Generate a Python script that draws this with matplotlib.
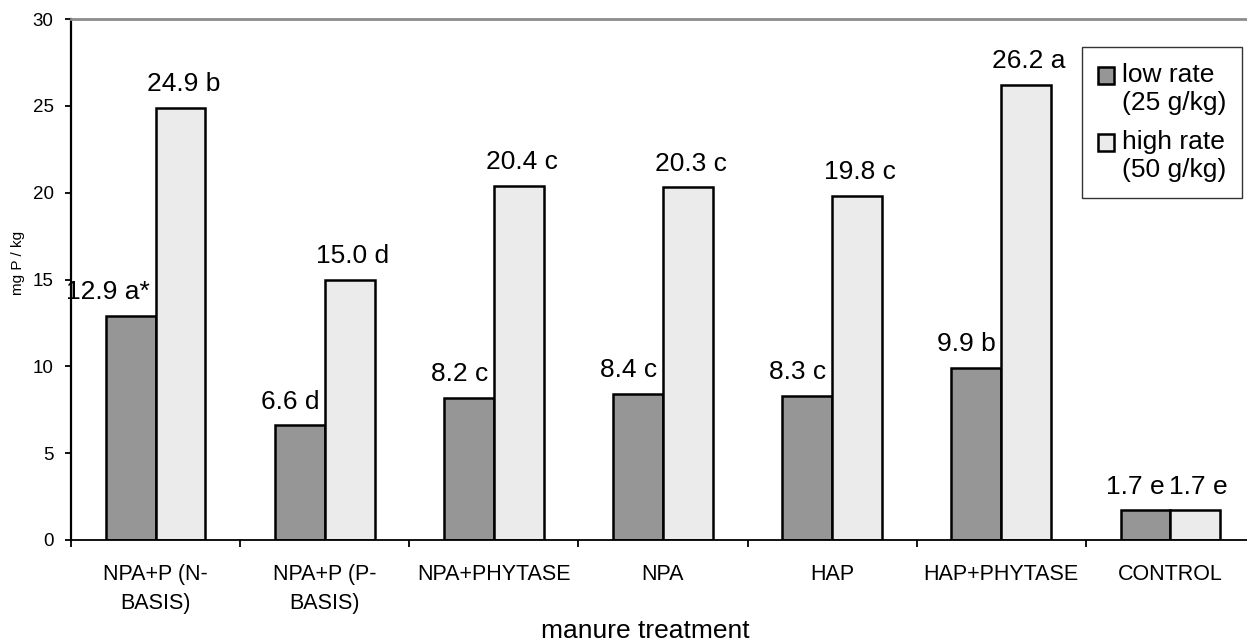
import matplotlib.pyplot as plt
import numpy as np

categories = ['NPA+P (N-\nBASIS)', 'NPA+P (P-\nBASIS)', 'NPA+PHYTASE', 'NPA',
              'HAP', 'HAP+PHYTASE', 'CONTROL']
low_rate = [12.9, 6.6, 8.2, 8.4, 8.3, 9.9, 1.7]
high_rate = [24.9, 15.0, 20.4, 20.3, 19.8, 26.2, 1.7]
low_letters = ['a*', 'd', 'c', 'c', 'c', 'b', 'e']
high_letters = ['b', 'd', 'c', 'c', 'c', 'a', 'e']
series_names = ['low rate\n(25 g/kg)', 'high rate\n(50 g/kg)']

plt.rcParams['font.family'] = ['Liberation Sans', 'DejaVu Sans']

W, H = 1247, 644
fig = plt.figure(figsize=(W / 100, H / 100), dpi=100)
ax = fig.add_axes([71 / W, 104 / H, (1255 - 71) / W, (540 - 19) / H])

x = np.arange(len(categories))
width = 0.295

# bars
ax.bar(x - width / 2, low_rate, width, color='#969696', edgecolor='black',
       linewidth=1.8, label=series_names[0])
ax.bar(x + width / 2, high_rate, width, color='#ebebeb', edgecolor='black',
       linewidth=1.8, label=series_names[1])

# value labels
for i in range(len(categories)):
    ax.annotate(f'{low_rate[i]:.1f} {low_letters[i]}', (x[i], low_rate[i]),
                xytext=(-4, 12), textcoords='offset points',
                ha='right', va='baseline', fontsize=19)
    ax.annotate(f'{high_rate[i]:.1f} {high_letters[i]}', (x[i] + width / 2, high_rate[i]),
                xytext=(2, 12), textcoords='offset points',
                ha='center', va='baseline', fontsize=19)

ax.set_xlim(-0.5, len(categories) - 0.5)
ax.set_ylim(0, 30)
ax.set_yticks(range(0, 31, 5))
ax.tick_params(axis='y', labelsize=13.5, length=4.5, width=1.3, pad=8)

# category labels in the middle, ticks on the boundaries
ax.set_xticks(np.arange(-0.5, len(categories), 1.0))
ax.set_xticklabels([])
ax.set_xticks(x, minor=True)
ax.set_xticklabels(categories, minor=True, fontsize=15.5, linespacing=1.5)
ax.tick_params(axis='x', which='major', length=5, width=1.3)
ax.tick_params(axis='x', which='minor', length=0, pad=17)

ax.spines['right'].set_visible(False)
ax.spines['top'].set_color('#8c8c8c')
ax.spines['top'].set_linewidth(2)
ax.spines['left'].set_linewidth(1.6)
ax.spines['bottom'].set_linewidth(1.3)

fig.text(18 / W, 1 - 263 / H, 'mg P / kg', rotation=90, ha='center', va='center',
         fontsize=11)
fig.text(645 / W, 1 - 638 / H, 'manure treatment', ha='center', va='baseline',
         fontsize=19)

leg = ax.legend(loc='upper left', bbox_to_anchor=(1082 / W, 1 - 47 / H),
                bbox_transform=fig.transFigure, borderaxespad=0, fontsize=19,
                frameon=True, fancybox=False, edgecolor='black',
                handlelength=0.62, handleheight=0.62, handletextpad=0.3,
                borderpad=0.6, labelspacing=0.6)
leg.get_frame().set_linewidth(1.0)
# put the swatch level with the first line of each two-line label
for h in leg.legend_handles:
    h.set_y(h.get_y() + 10)

fig.savefig('out.png', dpi=100)
